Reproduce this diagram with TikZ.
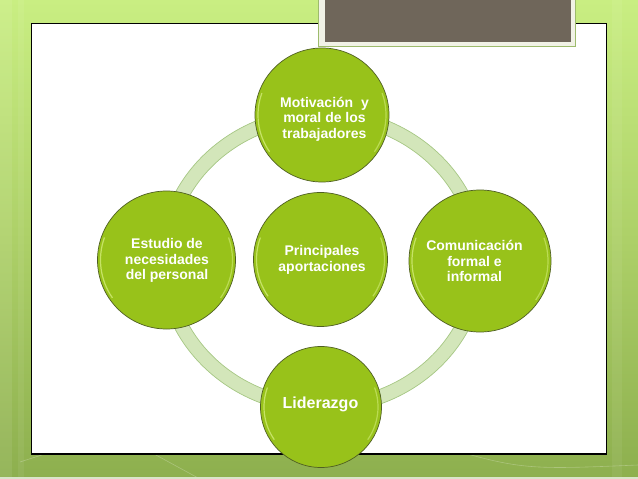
\documentclass[tikz,border=0pt]{standalone}
\usepackage{fontspec}
\setmainfont{Liberation Sans}
\definecolor{bgtop}{HTML}{C9EE82}
\definecolor{bgmid}{HTML}{ADD068}
\definecolor{bgbot}{HTML}{8DAF4E}
\definecolor{bgstrip}{HTML}{D9E5C9}
\definecolor{ballfill}{HTML}{98C21A}
\definecolor{balledge}{HTML}{4F5F22}
\definecolor{ballhi}{HTML}{D2EC78}
\definecolor{ringfill}{HTML}{D3E6BA}
\definecolor{ringedge}{HTML}{A6C784}
\definecolor{titlegray}{HTML}{6F665A}
\definecolor{titleframe}{HTML}{F1F2E6}
\definecolor{titleedge}{HTML}{9DBB6C}
\tikzset{
  ball/.style={circle, fill=ballfill, draw=balledge, line width=0.7pt, minimum size=#1, inner sep=0pt,
    text=white, font=\bfseries\fontsize{14}{15.5}\selectfont, align=center},
  balltext/.style={text=white, font=\bfseries\fontsize{14}{15.5}\selectfont, align=center, inner sep=0pt},
}
\begin{document}
\begin{tikzpicture}[x=1pt,y=-1pt]
\useasboundingbox (0,0) rectangle (638,479);
% background
\shade[top color=bgtop, bottom color=bgbot, middle color=bgmid] (0,0) rectangle (638,479);
\fill[white, opacity=0.08] (0,0) rectangle (12,479);
\fill[white, opacity=0.06] (18,0) rectangle (24,479);
\fill[white, opacity=0.06] (612,0) rectangle (622,479);
\draw[white, opacity=0.25, line width=0.6pt] (20,462) -- (150,420);
\draw[white, opacity=0.25, line width=0.6pt] (110,430) -- (200,479);
\draw[white, opacity=0.25, line width=0.6pt] (420,440) .. controls (520,470) .. (638,465);
\fill[bgstrip] (0,477) rectangle (638,479);
% white panel
\draw[fill=white, draw=black, line width=1.2pt] (31.7,23.3) rectangle (606.7,454);
% title box
\draw[fill=titleframe, draw=titleedge, line width=0.8pt] (318,-2) rectangle (575,46.5);
\fill[titlegray] (325,-2) rectangle (571,42);
% ring
\draw[ringfill, line width=14pt] (322,261) ellipse [x radius=157, y radius=146];
\draw[ringedge, line width=0.7pt] (322,261) ellipse [x radius=164, y radius=153];
\draw[ringedge, line width=0.7pt] (322,261) ellipse [x radius=150, y radius=139];
% circles
\node[ball=134pt] (top) at (322,115) {};
\node[ball=134pt] (center) at (320.5,259.5) {};
\node[ball=142pt] (right) at (480,261) {};
\node[ball=138pt] (left) at (166.5,260) {};
\node[ball=121pt] (bottom) at (321,407) {};
\foreach \n/\r in {top/64, center/64, right/68, left/66, bottom/57}{
  \draw[ballhi, line width=1.2pt, opacity=0.8] (\n.center) ++(200:\r) arc (200:145:\r);
  \draw[ballhi, line width=1.2pt, opacity=0.6] (\n.center) ++(-20:\r) arc (-20:35:\r);
}
% texts
\node[balltext] (ttop) at (324.5,119) {Motivación\ \ y\\moral de los\\trabajadores};
\node[balltext] (tcenter) at (322,260) {Principales\\aportaciones};
\node[balltext] (tright) at (474.5,261) {Comunicación\\formal e\\informal};
\node[balltext] (tleft) at (167,260.5) {Estudio de\\necesidades\\del personal};
\node[balltext, font=\bfseries\fontsize{16}{18}\selectfont] (tbottom) at (320.5,404) {Liderazgo};
\end{tikzpicture}
\end{document}
